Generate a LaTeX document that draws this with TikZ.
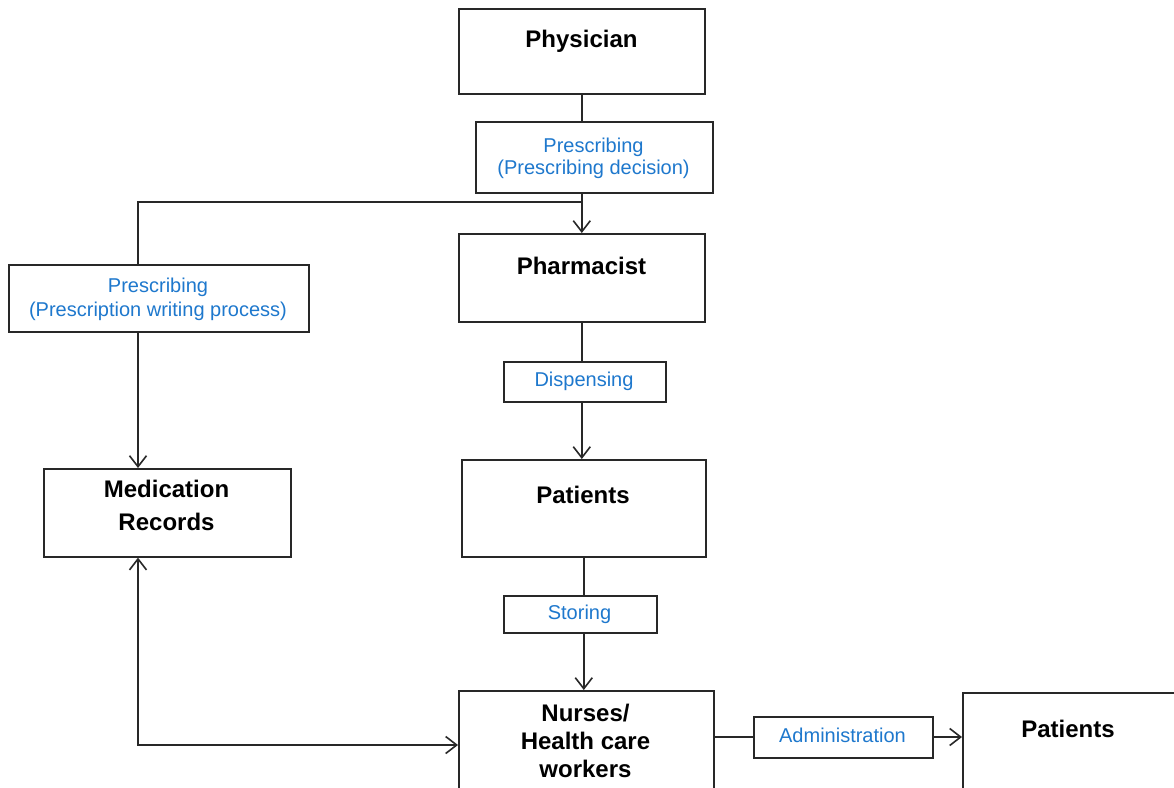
\documentclass[tikz,border=0pt]{standalone}
\usepackage{fontspec}
\setmainfont{Liberation Sans}
\usetikzlibrary{arrows.meta}
\definecolor{lblue}{RGB}{30,120,205}
\definecolor{lineg}{RGB}{40,40,40}
\begin{document}
\begin{tikzpicture}[x=1pt,y=-1pt,
  box/.style={draw=lineg, line width=1.6pt, fill=white, rectangle, inner sep=0pt, anchor=north west},
  conn/.style={draw=lineg, line width=1.6pt},
  tip/.tip={Straight Barb[length=11pt,width=17pt,line width=1.6pt]},
  arr/.style={conn, -tip},
  biarr/.style={conn, tip-tip},
  mainlbl/.style={font=\fontsize{24}{28}\selectfont\bfseries, anchor=base, inner sep=0pt},
  bluelbl/.style={font=\fontsize{20}{22}\selectfont, text=lblue, anchor=base, inner sep=0pt}]
\useasboundingbox (0,0) rectangle (1174,787);
\fill[white] (0,0) rectangle (1174,787);
% boxes
\node[box, minimum width=246pt, minimum height=85pt] (phys) at (458,8) {};
\node[box, minimum width=237pt, minimum height=71pt] (dec) at (475,121) {};
\node[box, minimum width=246pt, minimum height=88pt] (pharm) at (458,233) {};
\node[box, minimum width=300pt, minimum height=67pt] (writ) at (8,264) {};
\node[box, minimum width=247pt, minimum height=88pt] (med) at (43,468) {};
\node[box, minimum width=162pt, minimum height=40pt] (disp) at (503,361) {};
\node[box, minimum width=244pt, minimum height=97pt] (pat) at (461,459) {};
\node[box, minimum width=153pt, minimum height=37pt] (stor) at (503,595) {};
\node[box, minimum width=255pt, minimum height=115pt] (nurse) at (458,690) {};
\node[box, minimum width=179pt, minimum height=41pt] (admin) at (753,716) {};
\node[box, minimum width=240pt, minimum height=115pt] (pat2) at (962,692) {};
% coordinates
\coordinate (jr) at (581,202);
\coordinate (jl) at (138,202);
\coordinate (corner) at (138,745);
% connectors
\draw[conn] (phys.south) -- (phys.south |- dec.north);
\draw[arr] (phys.south |- dec.south) -- (pharm.north);
\draw[conn] (jr) -- (jl) -- (jl |- writ.north);
\draw[arr] (jl |- writ.south) -- (jl |- med.north);
\draw[biarr] (jl |- med.south) -- (corner) -- (corner -| nurse.west);
\draw[conn] (pharm.south) -- (pharm.south |- disp.north);
\draw[arr] (pharm.south |- disp.south) -- (pharm.south |- pat.north);
\draw[conn] (pat.south) -- (pat.south |- stor.north);
\draw[arr] (pat.south |- stor.south) -- (pat.south |- nurse.north);
\draw[conn] (nurse.east |- 0,737) -- (admin.west |- 0,737);
\draw[arr] (admin.east |- 0,737) -- (pat2.west |- 0,737);
% main labels
\node[mainlbl] (tphys) at (581.5,47) {Physician};
\node[mainlbl] (tpharm) at (581.5,274) {Pharmacist};
\node[mainlbl] (tpat) at (583,503) {Patients};
\node[mainlbl] (tmed1) at (166.5,497) {Medication};
\node[mainlbl] (tmed2) at (166.5,530) {Records};
\node[mainlbl] (tn1) at (585.5,721) {Nurses/};
\node[mainlbl] (tn2) at (585.5,749) {Health care};
\node[mainlbl] (tn3) at (585.5,777) {workers};
\node[mainlbl] (tpat2) at (1068,737) {Patients};
% blue labels
\node[bluelbl] (tdec1) at (593.5,152) {Prescribing};
\node[bluelbl] (tdec2) at (593.5,174) {(Prescribing decision)};
\node[bluelbl] (twrit1) at (158,292) {Prescribing};
\node[bluelbl] (twrit2) at (158,316) {(Prescription writing process)};
\node[bluelbl] (tdisp) at (584,386) {Dispensing};
\node[bluelbl] (tstor) at (579.5,619) {Storing};
\node[bluelbl] (tadmin) at (842.5,742) {Administration};
\end{tikzpicture}
\end{document}
